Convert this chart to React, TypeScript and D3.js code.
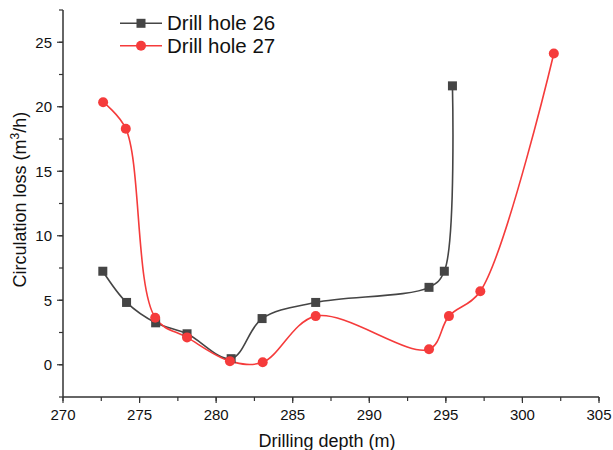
import * as d3 from "d3";

const depth26 = [272.6, 274.15, 276.05, 278.1, 280.98, 283.0, 286.5, 293.9, 294.9, 295.43];
const loss26 = [7.25, 4.83, 3.25, 2.4, 0.47, 3.58, 4.83, 6.0, 7.25, 21.62];

const depth27 = [272.62, 274.1, 276.02, 278.1, 280.9, 283.04, 286.5, 293.9, 295.2, 297.25, 302.05];
const loss27 = [20.35, 18.3, 3.65, 2.12, 0.28, 0.19, 3.77, 1.2, 3.77, 5.7, 24.13];

const xTicks = [270, 275, 280, 285, 290, 295, 300, 305];
const yTicks = [0, 5, 10, 15, 20, 25];
const seriesNames = ["Drill hole 26", "Drill hole 27"];

const width = 613;
const height = 450;
const margin = { top: 10, right: 14, bottom: 53, left: 63 };
const gray = "#454545";
const red = "#f53b3b";

export default function App() {
  const innerWidth = width - margin.left - margin.right;
  const innerHeight = height - margin.top - margin.bottom;

  const x = d3.scaleLinear().domain([270, 305]).range([0, innerWidth]);
  const y = d3.scaleLinear().domain([-2.5, 27.5]).range([innerHeight, 0]);

  const pts26 = depth26.map((d, i) => [x(d), y(loss26[i])] as [number, number]);
  const pts27 = depth27.map((d, i) => [x(d), y(loss27[i])] as [number, number]);

  const line = d3.line().curve(d3.curveCatmullRom.alpha(0.5));

  const xMinor = d3.range(270, 305.01, 2.5);
  const yMinor = d3.range(-2.5, 27.51, 2.5);

  const font = "'Liberation Sans', Arial, Helvetica, sans-serif";

  return (
    <svg
      width={width}
      height={height}
      style={{ position: "absolute", left: 0, top: 0, background: "#fff" }}
      fontFamily={font}
    >
      <g transform={`translate(${margin.left}, ${margin.top})`}>
        {/* x axis */}
        <line x1={0} x2={innerWidth} y1={innerHeight} y2={innerHeight} stroke="#333" strokeWidth={1.5} />
        {xMinor.map((t) => (
          <line key={`xm-${t}`} x1={x(t)} x2={x(t)} y1={innerHeight} y2={innerHeight + 4} stroke="#333" strokeWidth={1.2} />
        ))}
        {xTicks.map((t) => (
          <g key={`x-${t}`}>
            <line x1={x(t)} x2={x(t)} y1={innerHeight} y2={innerHeight + 6} stroke="#333" strokeWidth={1.2} />
            <text x={x(t)} y={innerHeight + 23} textAnchor="middle" fontSize={15} fill="#111">
              {t}
            </text>
          </g>
        ))}
        <text x={innerWidth / 2 - 4} y={innerHeight + 50} textAnchor="middle" fontSize={18} fill="#111">
          Drilling depth (m)
        </text>

        {/* y axis */}
        <line x1={0} x2={0} y1={0} y2={innerHeight} stroke="#333" strokeWidth={1.5} />
        {yMinor.map((t) => (
          <line key={`ym-${t}`} x1={-4} x2={0} y1={y(t)} y2={y(t)} stroke="#333" strokeWidth={1.2} />
        ))}
        {yTicks.map((t) => (
          <g key={`y-${t}`}>
            <line x1={-6} x2={0} y1={y(t)} y2={y(t)} stroke="#333" strokeWidth={1.2} />
            <text x={-11} y={y(t)} dy="0.35em" textAnchor="end" fontSize={15} fill="#111">
              {t}
            </text>
          </g>
        ))}
        <text
          transform={`translate(${-37}, ${y(12.8)}) rotate(-90)`}
          textAnchor="middle"
          fontSize={18}
          fill="#111"
        >
          Circulation loss (m
          <tspan baselineShift="super" fontSize={12}>3</tspan>
          /h)
        </text>

        {/* series */}
        <path d={line(pts26) ?? ""} fill="none" stroke={gray} strokeWidth={1.6} />
        <path d={line(pts27) ?? ""} fill="none" stroke={red} strokeWidth={1.6} />
        {pts26.map(([px, py], i) => (
          <rect key={`s26-${i}`} x={px - 4.5} y={py - 4.5} width={9} height={9} fill={gray} />
        ))}
        {pts27.map(([px, py], i) => (
          <circle key={`s27-${i}`} cx={px} cy={py} r={5} fill={red} />
        ))}

        {/* legend */}
        <g transform="translate(57, 13.3)">
          <line x1={0} x2={42} y1={0} y2={0} stroke={gray} strokeWidth={1.6} />
          <rect x={16.5} y={-4.5} width={9} height={9} fill={gray} />
          <text x={47} y={0} dy="0.35em" fontSize={20.5} fill="#111">
            {seriesNames[0]}
          </text>
          <line x1={0} x2={42} y1={22.4} y2={22.4} stroke={red} strokeWidth={1.6} />
          <circle cx={21} cy={22.4} r={5} fill={red} />
          <text x={47} y={22.4} dy="0.35em" fontSize={20.5} fill="#111">
            {seriesNames[1]}
          </text>
        </g>
      </g>
    </svg>
  );
}
